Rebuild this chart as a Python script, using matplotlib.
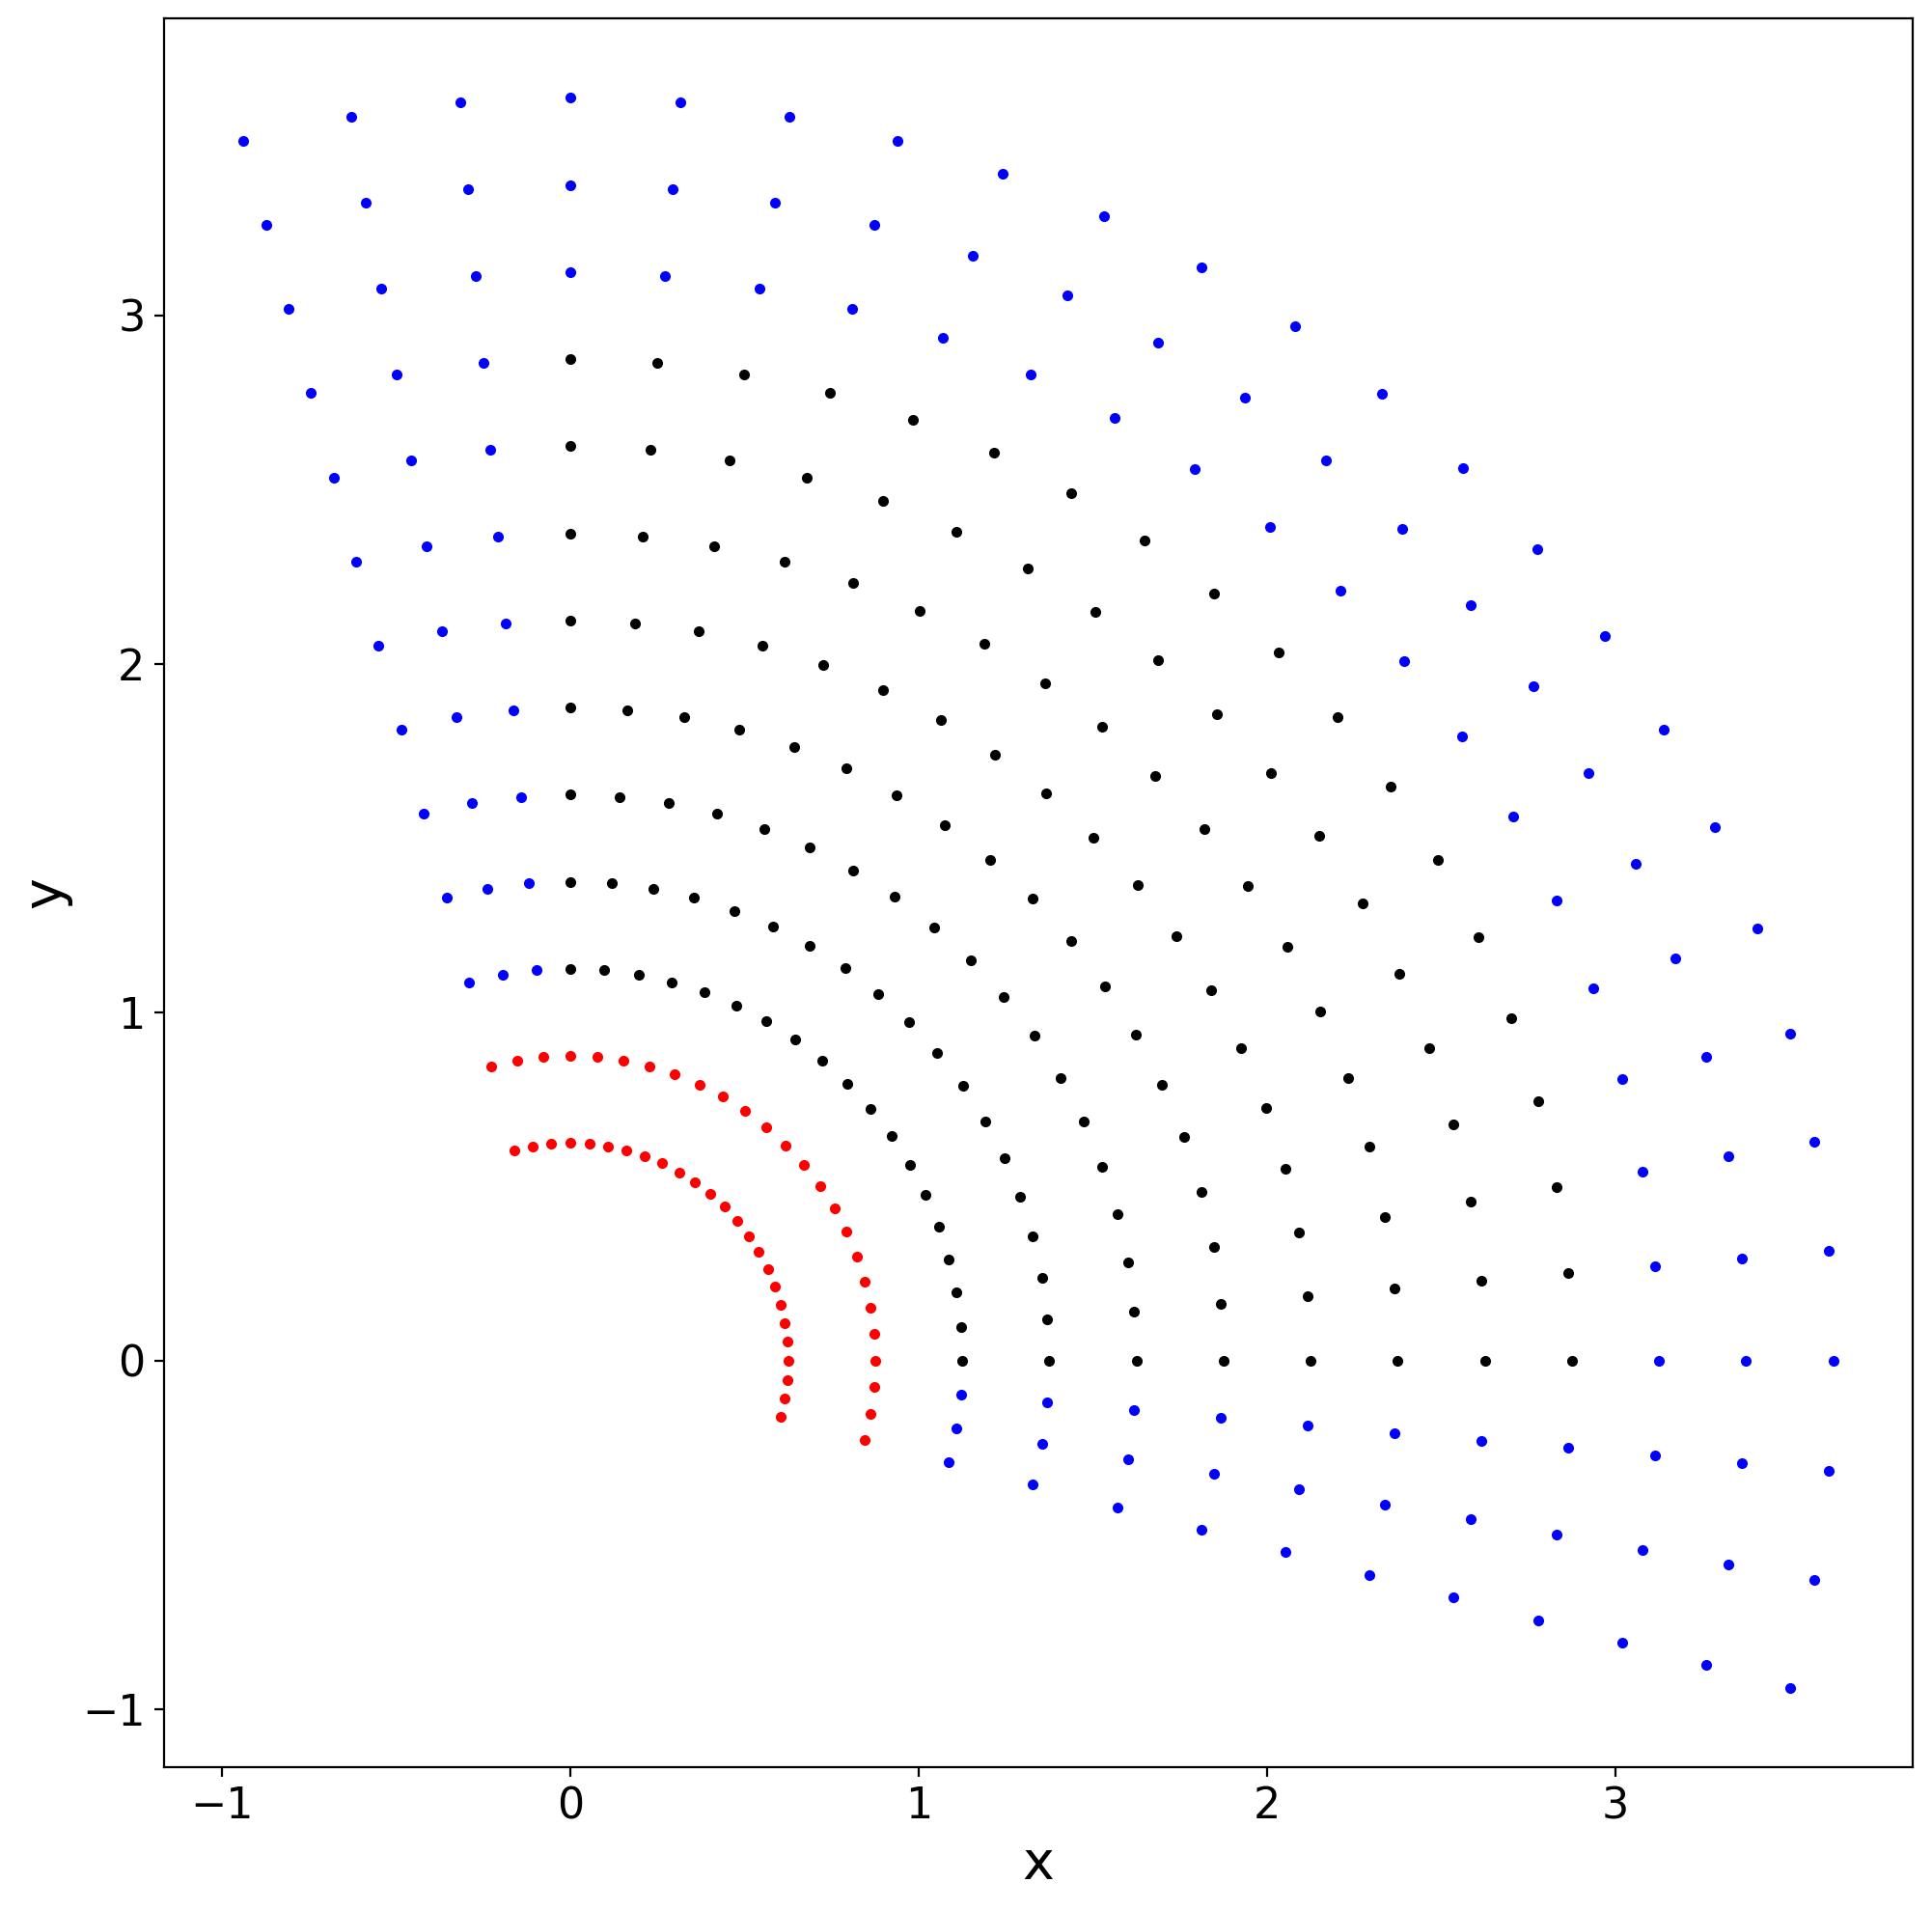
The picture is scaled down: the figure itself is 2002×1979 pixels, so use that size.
import numpy as np
import matplotlib
matplotlib.use("Agg")
import matplotlib.pyplot as plt

# Polar grid
radii = [0.625, 0.875, 1.125, 1.375, 1.625, 1.875, 2.125, 2.375,
         2.625, 2.875, 3.125, 3.375, 3.625]
angles_deg = [-15, -10, -5, 0, 5, 10, 15, 20, 25, 30, 35, 40, 45, 50, 55,
              60, 65, 70, 75, 80, 85, 90, 95, 100, 105]

inner_radius_limit = 1.0     # below: red
outer_radius_limit = 3.0     # above: blue
angle_range = (0, 90)        # inside (and between limits): black

R, A = np.meshgrid(np.array(radii), np.array(angles_deg), indexing="ij")
X = R * np.cos(np.deg2rad(A))
Y = R * np.sin(np.deg2rad(A))

red = R < inner_radius_limit
black = (~red) & (R < outer_radius_limit) & (A >= angle_range[0]) & (A <= angle_range[1])
blue = ~(red | black)

fig = plt.figure(figsize=(10.01, 9.895), dpi=200)
ax = fig.add_axes([0.0849, 0.0748, 0.9051, 0.9156])

ms = 16
ax.scatter(X[blue], Y[blue], s=ms, c="blue", linewidths=0)
ax.scatter(X[black], Y[black], s=ms, c="black", linewidths=0)
ax.scatter(X[red], Y[red], s=ms, c="red", linewidths=0)

ax.set_xlabel("x", fontsize=20)
ax.set_ylabel("y", fontsize=20)
ax.tick_params(labelsize=16)
ax.set_xticks([-1, 0, 1, 2, 3])
ax.set_yticks([-1, 0, 1, 2, 3])

fig.savefig("out.png", dpi=200)
